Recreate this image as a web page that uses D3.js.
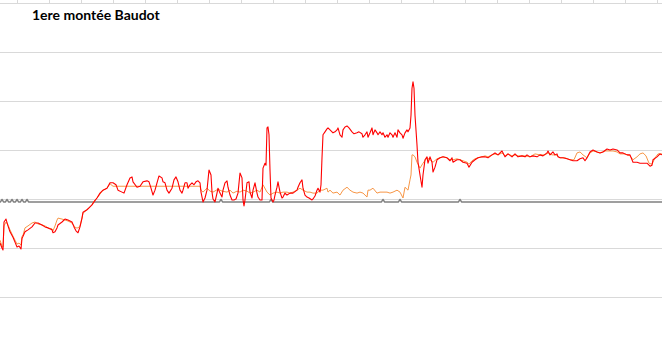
<!DOCTYPE html>
<html><head><meta charset="utf-8">
<script src="https://cdn.jsdelivr.net/npm/d3@7"></script>
<style>html,body{margin:0;padding:0;background:#fff;overflow:hidden}svg{display:block}</style>
</head><body>
<svg id="c" width="662" height="346"></svg>
<script>
const title = "1ere montée Baudot";
const xTicks = [8,24,40,56,72,88,104,120,136,152,168,184,200,216,232,248,264,280,296,312,328];
const yTicks = [0,10,20,30,40,50,60];

const redX = [0,1,1.5,2,3,4,5,6.5,7.5,8.5,9.5,10.5,11,11.5,12.5,14,16,17.5,19,21,22.5,24,26,26.5,27.5,28.5,29,31,32.5,34,36,37,38,39,40,41,41.5,43.5,44.5,46,47,48.5,50,51.5,53.5,55,56.5,58,59,61,62,63.5,65,66,66.5,68.5,70,71.5,73.5,74.5,75.5,76.5,77.5,78.5,79.5,81,81.5,82.5,83.5,84.5,86,87,88,89,90,91,91.5,92.5,93.5,94,95,96,97,98,99,100,100.5,101.5,102.5,103.5,104.5,105.5,106,106.5,107.5,108.5,109,110,111,111.5,112.5,113.5,114,115,116,117,118,119,120,121,121.5,122,122.5,123.5,124.5,125,126,126.5,127.5,128.5,129,130,131,131.5,132.5,133,133.5,134,134.5,135,135.5,136.5,137,137.5,138.5,139,140,141,141.5,142.5,143.5,145,146.5,148.5,149,150,151,151.5,152.5,153.5,154.5,156,156.5,157.5,158.5,159,160,160.5,161,161.5,162.5,163.5,164,165,166,166.5,167.5,168.5,169,170,171,171.5,172.5,173.5,174.5,176,177,178.5,179.5,181,181.5,182.5,183.5,184,185,186,186.5,187.5,188.5,189,190,191,191.5,192.5,193.5,194,195,196,196.5,197.5,198.5,199,200,201,201.5,202.5,203.5,204,205,205.5,206,206.5,207,207.5,208.5,209,210,211,211.5,212.5,213.5,214,215,216,216.5,217.5,218.5,220,221.5,223.5,225,226,226.5,228.5,230,231.5,233.5,234.5,236,237.5,239,241,242.5,244,246,247.5,249,251,252.5,254,256,257.5,259,261,262.5,263.5,265,266.5,268.5,270,271.5,273.5,274,275,276.5,277.5,278.5,279,280,281.5,283.5,285,286.5,288.5,290,291.5,292.5,293.5,295,296.5,298.5,300,301.5,303.5,305,306.5,308.5,310,311.5,313.5,315,316.5,318.5,320,321.5,323.5,325,326,326.5,328.5,330,331];
const redY = [10.8,9.8,9.4,15.1,15.7,14.3,13.1,12.0,11.0,10.0,10.2,9.6,11.8,12.2,13.1,13.5,14.1,14.9,14.9,14.5,14.1,13.9,13.5,12.9,13.1,13.9,14.5,15.1,15.7,15.5,15.1,14.1,13.3,12.9,14.1,15.9,17.1,17.6,18.0,18.6,19.2,20.0,21.0,21.6,22.0,23.1,23.1,22.7,21.6,21.2,21.0,22.7,24.1,24.3,23.3,22.2,22.4,23.3,23.5,23.3,22.0,20.6,21.6,23.1,24.5,24.1,23.3,23.1,21.6,21.0,22.0,23.7,24.3,23.3,21.6,21.0,21.6,23.1,23.1,22.0,22.7,23.1,22.7,23.3,23.5,23.1,21.2,19.2,20.0,21.6,25.7,24.7,21.2,19.8,19.2,21.0,22.0,21.0,20.2,21.6,23.1,23.5,22.2,20.6,19.6,19.6,19.8,21.0,25.1,24.1,19.6,18.4,19.6,23.1,23.3,21.2,20.0,21.6,23.1,21.0,20.2,19.6,19.6,26.1,27.1,26.7,34.3,34.5,32.9,25.7,20.0,19.2,19.6,20.6,22.2,23.3,21.2,20.0,20.2,21.0,20.6,21.0,21.0,21.6,22.2,23.1,23.7,22.0,20.6,20.2,20.0,19.6,19.8,20.4,21.6,22.0,21.2,22.7,28.2,32.9,33.5,34.1,34.3,33.9,33.5,33.3,33.5,33.9,34.3,32.9,32.4,33.9,34.5,34.7,34.3,33.5,33.1,33.3,33.5,33.1,32.4,32.9,33.5,32.4,33.3,34.3,32.9,33.9,33.3,32.9,33.5,32.9,33.3,32.4,32.9,32.4,33.3,32.9,32.4,33.3,32.4,33.9,33.3,32.9,32.2,33.3,33.9,33.5,34.3,36.9,42.4,43.7,42.4,36.9,30.8,27.3,24.7,22.2,24.7,27.8,28.4,27.1,28.4,27.3,25.3,26.3,27.8,28.2,28.4,28.2,27.6,28.2,27.3,27.8,27.8,27.3,27.1,26.3,27.3,27.8,28.2,28.4,28.4,28.2,28.8,29.2,28.8,29.6,28.4,29.0,28.4,29.0,28.4,28.6,28.4,28.8,28.4,28.6,28.4,28.8,28.6,29.2,29.6,28.8,29.4,28.8,29.0,28.4,28.2,28.2,28.0,27.8,27.6,27.6,28.0,28.2,27.6,28.2,29.4,29.8,29.4,29.2,29.4,30.0,29.8,30.0,29.8,29.2,29.2,28.8,28.8,27.3,27.3,27.1,27.1,27.1,26.5,26.7,27.8,28.4,29.0,28.8];

const orangeX = [0,1,1.5,2,3,4,5,6.5,7.5,8.5,9.5,10.5,11,11.5,12.5,14,16,17.5,19,21,22.5,24,26,26.5,27.5,28.5,29,31,32.5,34,36,37,38,39,40,41,41.5,43.5,44.5,46,47,48.5,50,51.5,53.5,55,56.5,100,100.5,101.5,103.5,105,106.5,109,111,113.5,115,116.5,118.5,120,121.5,123.5,125,126.5,128.5,130,131.5,133.5,135,136.5,138.5,140,141.5,143.5,145,146.5,148.5,150,151.5,153.5,155,156.5,158.5,159,160,161.5,163.5,164,165,166.5,168.5,170,171.5,173.5,175,176.5,178.5,180,181.5,183.5,184,185,186.5,188.5,190,191.5,193.5,195,196.5,198.5,200,201.5,202.5,204,205,205.5,206,206.5,207.5,208.5,210,211.5,213.5,215,216.5,218.5,220,221.5,223.5,225,226.5,228.5,230,231.5,233.5,234.5,236,237.5,239,241,242.5,244,246,247.5,249,251,252.5,254,256,257.5,259,261,262.5,265,267.5,270,272.5,274,276,278,280,282.5,285,287,288.5,290,291.5,293.5,295,296.5,298.5,300,302.5,305,306.5,308.5,310,312.5,315,316.5,318.5,320,321.5,323,324.5,326,327.5,329,331];
const orangeY = [11.4,10.2,10.0,14.3,15.1,14.5,13.5,12.2,11.4,10.6,10.8,10.4,12.2,12.4,13.9,14.3,14.9,15.1,14.7,14.5,14.3,13.9,13.7,13.3,14.3,15.5,15.9,15.7,15.5,15.3,14.9,14.3,13.9,13.9,14.3,15.9,16.9,17.6,18.0,18.6,19.4,20.0,20.8,21.6,22.0,22.9,22.4,22.4,21.6,21.2,22.0,21.4,21.2,21.8,21.4,21.2,21.6,21.0,21.4,21.2,21.6,21.4,21.0,21.2,21.6,21.2,22.7,21.2,20.6,21.0,21.2,21.0,21.2,21.2,21.0,21.2,21.6,22.0,21.6,21.2,21.2,21.0,21.0,21.2,21.6,21.6,22.0,21.2,21.6,21.0,21.2,20.6,21.6,22.2,21.6,21.2,21.0,21.2,21.0,20.2,21.6,21.6,22.0,21.0,21.2,21.2,21.2,21.0,21.2,21.6,21.2,20.0,22.2,21.6,23.7,24.7,28.8,28.8,28.4,27.3,26.1,27.1,28.2,27.8,27.3,28.0,28.2,28.4,28.2,27.8,27.8,28.0,27.8,27.6,27.3,26.9,27.6,28.0,28.2,28.4,28.6,28.4,28.8,29.0,28.8,29.2,28.6,29.0,28.6,28.8,28.6,28.6,28.6,28.4,29.0,28.8,28.8,29.2,28.8,28.8,28.2,28.2,27.8,27.8,29.2,29.4,28.8,28.2,29.2,29.6,29.4,29.2,29.6,29.6,29.6,29.4,29.0,29.0,28.6,27.8,28.4,29.0,29.2,28.6,27.1,26.9,28.2,29.0,29.0];

const grayX = [0,0.25,1,1.75,2.75,3.5,4.25,5.25,6,6.75,7.75,8.5,9.25,10.25,11,11.75,12.75,13.5,14.25,109.75,110.5,111.25,134.75,135.5,136.25,190.75,191.5,192.25,199.25,200,200.75,229.25,230,230.75,331];
const grayY = [19.2,19.2,19.7,19.2,19.2,19.7,19.2,19.2,19.7,19.2,19.2,19.7,19.2,19.2,19.7,19.2,19.2,19.7,19.2,19.2,19.7,19.2,19.2,19.7,19.2,19.2,19.7,19.2,19.2,19.7,19.2,19.2,19.7,19.2,19.2];

const W = 662, H = 346;
const svg = d3.select("#c");
const x = d3.scaleLinear().domain([0, 331]).range([0, W]);
const y = d3.scaleLinear().domain([0, 60]).range([296, 2]);

const gy = svg.append("g").attr("transform","translate(0,0.5)")
  .call(d3.axisLeft(y).tickValues(yTicks).tickSize(-W).tickFormat(""));
gy.select(".domain").remove();
gy.selectAll("line").attr("stroke","#d9d9d9").attr("shape-rendering","crispEdges");

const gx = svg.append("g").attr("transform",`translate(0.5,${y(60)+0.5})`)
  .call(d3.axisTop(x).tickValues(xTicks).tickSize(3).tickSizeOuter(0).tickFormat(""));
gx.select(".domain").remove();
gx.selectAll("line").attr("stroke","#d9d9d9").attr("shape-rendering","crispEdges");

const line = (xs, ys) => d3.line().x((d,i)=>x(xs[i])).y((d,i)=>y(ys[i]))(ys);

svg.append("path").attr("d", line(grayX, grayY)).attr("fill","none")
  .attr("stroke","#808080").attr("stroke-width",1.5).attr("stroke-linejoin","round");
svg.append("path").attr("d", line(orangeX, orangeY)).attr("fill","none")
  .attr("stroke","#f79646").attr("stroke-width",1).attr("stroke-linejoin","round");
svg.append("path").attr("d", line(redX, redY)).attr("fill","none")
  .attr("stroke","#ff0000").attr("stroke-width",1.1).attr("stroke-linejoin","round");

svg.append("text").attr("x",32).attr("y",20).text(title)
  .attr("font-family","Lato, 'Open Sans', sans-serif").attr("font-weight","bold")
  .attr("font-size","14px").attr("fill","#000");
</script>
</body></html>
